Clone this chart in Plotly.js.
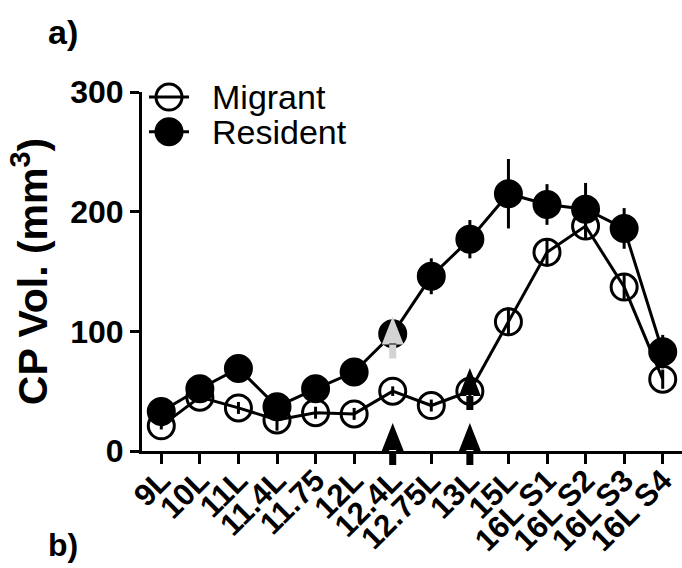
<!DOCTYPE html>
<html>
<head>
<meta charset="utf-8">
<script src="https://cdn.plot.ly/plotly-3.0.1.min.js"></script>
<style>html,body{margin:0;padding:0;background:#fff;}#chart{width:682px;height:568px;}</style>
</head>
<body>
<div id="chart"></div>
<script>
// ---- data ----
var categories = ['9L','10L','11L','11.4L','11.75','12L','12.4L','12.75L','13L','15L','16L S1','16L S2','16L S3','16L S4'];
var migrant     = [21, 45, 36, 26, 32, 31, 50, 38, 50, 108, 166, 188, 137, 60];
var migrantErr  = [3, 4, 5, 9, 5, 5, 4, 5, 14, 12, 12, 10, 10, 8];
var resident    = [33, 52, 69, 37, 52, 66, 98, 146, 177, 215, 206, 202, 186, 83];
var residentErr = [4, 5, 5, 5, 5, 5, 8, 15, 16, 29, 17, 22, 17, 14];
var yTicks = [0, 100, 200, 300];
// arrow markers: category and base value
var axisArrowCats = ['12.4L', '13L'];
var greyArrowCats = ['12.4L'];
var greyArrowVals = [89];
var innerArrowCats = ['13L'];
var innerArrowVals = [46];

var FONT = '"Liberation Sans", Arial, sans-serif';
var ARROW = 'M-11,0 L11,0 L0,28 Z M-3.5,1 L3.5,1 L3.5,-14 L-3.5,-14 Z';

var traces = [
  {
    x: categories, y: migrant, name: 'Migrant', type: 'scatter', mode: 'lines+markers',
    line: {color: '#000', width: 3},
    marker: {symbol: 'circle', size: 26, color: 'rgba(0,0,0,0)', line: {color: '#000', width: 3}},
    error_y: {type: 'data', array: migrantErr, visible: true, color: '#000', thickness: 3, width: 0},
    showlegend: false, cliponaxis: false
  },
  {
    x: categories, y: resident, name: 'Resident', type: 'scatter', mode: 'lines+markers',
    line: {color: '#000', width: 3},
    marker: {symbol: 'circle', size: 26, color: '#000', line: {color: '#000', width: 3}},
    error_y: {type: 'data', array: residentErr, visible: true, color: '#000', thickness: 3, width: 0},
    showlegend: false, cliponaxis: false
  }
];

var shapes = [];
axisArrowCats.forEach(function (c) {
  shapes.push({type: 'path', xref: 'x', yref: 'paper', xsizemode: 'pixel', ysizemode: 'pixel',
    xanchor: c, yanchor: 0, path: ARROW, fillcolor: '#000', line: {width: 0}, layer: 'above'});
});
greyArrowCats.forEach(function (c, i) {
  shapes.push({type: 'path', xref: 'x', yref: 'y', xsizemode: 'pixel', ysizemode: 'pixel',
    xanchor: c, yanchor: greyArrowVals[i], path: ARROW, fillcolor: '#d3d3d3', line: {width: 0}, layer: 'above'});
});
innerArrowCats.forEach(function (c, i) {
  shapes.push({type: 'path', xref: 'x', yref: 'y', xsizemode: 'pixel', ysizemode: 'pixel',
    xanchor: c, yanchor: innerArrowVals[i], path: ARROW, fillcolor: '#000', line: {width: 0}, layer: 'above'});
});

// custom legend keys (large symbols)
var legendItems = [
  {name: 'Migrant', fill: 'rgba(0,0,0,0)', y: 0.986},
  {name: 'Resident', fill: '#000', y: 0.889}
];
var legX = 0.05, legTextX = 0.125;
var annotations = [];
legendItems.forEach(function (it) {
  shapes.push({type: 'line', xref: 'paper', yref: 'paper', xsizemode: 'pixel', ysizemode: 'pixel',
    xanchor: legX, yanchor: it.y, x0: -20, x1: 20, y0: 0, y1: 0, line: {color: '#000', width: 3}});
  shapes.push({type: 'circle', xref: 'paper', yref: 'paper', xsizemode: 'pixel', ysizemode: 'pixel',
    xanchor: legX, yanchor: it.y, x0: -13, x1: 13, y0: -13, y1: 13, fillcolor: it.fill, line: {color: '#000', width: 3}});
  annotations.push({text: it.name, xref: 'paper', yref: 'paper', x: legTextX, y: it.y, xanchor: 'left', yanchor: 'middle',
    showarrow: false, font: {family: FONT, size: 34, color: '#000'}});
});
annotations.push({text: '<b>a)</b>', xref: 'paper', yref: 'paper', x: -0.146, y: 1.167, xanchor: 'center', yanchor: 'middle',
  showarrow: false, font: {family: FONT, size: 34, color: '#000'}});
annotations.push({text: '<b>b)</b>', xref: 'paper', yref: 'paper', x: -0.146, y: -0.318, xanchor: 'center', yanchor: 'bottom',
  showarrow: false, font: {family: FONT, size: 32, color: '#000'}});

var layout = {
  width: 682, height: 568,
  margin: {l: 142, r: 0, t: 92, b: 117, pad: 0},
  paper_bgcolor: '#fff', plot_bgcolor: '#fff',
  font: {family: FONT, color: '#000'},
  showlegend: false,
  xaxis: {
    type: 'category', range: [-0.5, 13.5], categoryorder: 'array', categoryarray: categories,
    tickmode: 'array', tickvals: categories, ticktext: categories,
    showline: true, linecolor: '#000', linewidth: 3, showgrid: false, zeroline: false,
    ticks: 'outside', ticklen: 10, tickwidth: 3, tickcolor: '#000', tickangle: -45,
    ticklabelstandoff: -14,
    tickfont: {family: FONT, size: 31, weight: 'bold', color: '#000'}
  },
  yaxis: {
    range: [0, 300], tickvals: yTicks, ticktext: yTicks.map(String),
    showline: true, linecolor: '#000', linewidth: 3, showgrid: false, zeroline: false,
    ticks: 'outside', ticklen: 9, tickwidth: 3, tickcolor: '#000',
    tickfont: {family: FONT, size: 32, weight: 'bold', color: '#000'},
    title: {text: 'CP Vol. (mm<sup>3</sup>)', font: {family: FONT, size: 41, weight: 'bold', color: '#000'}, standoff: 10}
  },
  shapes: shapes,
  annotations: annotations
};

Plotly.newPlot('chart', traces, layout, {displayModeBar: false, staticPlot: true});
</script>
</body>
</html>
